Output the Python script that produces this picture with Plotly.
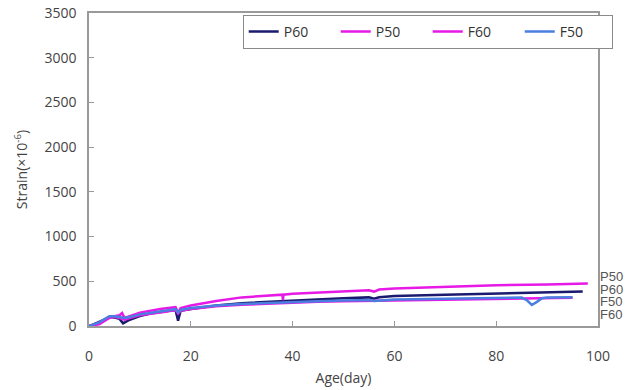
import plotly.graph_objects as go

# ---- data ----
p60_day = [0, 1, 3, 4, 5, 6, 6.7, 8, 10, 12, 15, 17, 17.5, 18, 20, 25, 30, 35, 40, 45, 50, 55, 56, 57, 60, 70, 80, 90, 97]
p60_val = [0, 20, 70, 100, 95, 80, 30, 70, 110, 140, 165, 180, 60, 170, 190, 230, 255, 270, 285, 300, 310, 320, 305, 322, 335, 350, 365, 375, 385]

p50_day = [0, 2, 4, 5, 6, 6.5, 7, 8, 10, 14, 17, 17.5, 18, 20, 25, 30, 35, 38, 38.1, 38.2, 40, 45, 50, 55, 56, 57, 60, 70, 80, 90, 98]
p50_val = [0, 20, 90, 110, 120, 145, 90, 110, 150, 190, 210, 150, 200, 230, 280, 320, 340, 350, 290, 350, 360, 375, 390, 400, 385, 408, 420, 440, 455, 465, 475]

f60_day = [0, 2, 4, 5, 6, 7, 8, 10, 15, 17, 17.5, 18, 20, 25, 30, 35, 40, 45, 50, 55, 60, 70, 80, 90, 95]
f60_val = [0, 30, 100, 100, 90, 70, 90, 120, 160, 180, 140, 170, 190, 222, 238, 250, 260, 270, 277, 282, 288, 298, 308, 312, 316]

f50_day = [0, 2, 4, 5, 6, 7, 8, 10, 15, 17, 17.5, 18, 20, 25, 30, 35, 40, 45, 50, 55, 56, 60, 70, 80, 85, 86, 87, 88, 89, 90, 95]
f50_val = [0, 40, 110, 110, 100, 90, 100, 130, 170, 190, 150, 180, 200, 230, 245, 258, 268, 278, 285, 290, 280, 295, 305, 315, 318, 290, 235, 270, 310, 318, 322]

end_labels = ["P50", "P60", "F50", "F60"]
x_ticks = [0, 20, 40, 60, 80, 100]
y_ticks = [0, 500, 1000, 1500, 2000, 2500, 3000, 3500]

NAVY = "#1a1a6e"
MAGENTA = "#e619e6"
BLUE = "#4a7fe0"
FONT = "Open Sans, Noto Sans, sans-serif"

fig = go.Figure()
fig.add_trace(go.Scatter(x=p60_day, y=p60_val, name="P60", mode="lines", line=dict(color=NAVY, width=2.5)))
fig.add_trace(go.Scatter(x=p50_day, y=p50_val, name="P50", mode="lines", line=dict(color=MAGENTA, width=2.5)))
fig.add_trace(go.Scatter(x=f60_day, y=f60_val, name="F60", mode="lines", line=dict(color=MAGENTA, width=2.5)))
fig.add_trace(go.Scatter(x=f50_day, y=f50_val, name="F50", mode="lines", line=dict(color=BLUE, width=2.5)))

label_y = [0.158, 0.116, 0.077, 0.038]
for t, yy in zip(end_labels, label_y):
    fig.add_annotation(text=t, xref="paper", yref="paper", x=1.002, y=yy, xanchor="left", yanchor="middle",
                       showarrow=False, borderpad=0,
                       font=dict(family="Liberation Sans, Arial, sans-serif", size=13, color="#555555"))

axis_common = dict(showline=True, linecolor="#9a9a9a", linewidth=1.5, mirror=True, showgrid=False, zeroline=False,
                   ticks="inside", ticklen=5, tickcolor="#9a9a9a", automargin=False,
                   tickfont=dict(family=FONT, size=14, color="#444444"))

fig.update_layout(
    width=638, height=390,
    margin=dict(l=89, r=40, t=13, b=64, autoexpand=False),
    paper_bgcolor="white", plot_bgcolor="white",
    font=dict(family=FONT, color="#444444"),
    xaxis=dict(range=[0, 100], tickvals=x_ticks, ticklabelstandoff=16,
               title=dict(text="Age(day)", font=dict(family=FONT, size=14, color="#444444"), standoff=10),
               **axis_common),
    yaxis=dict(range=[0, 3500], tickvals=y_ticks, ticklabelstandoff=8,
               title=dict(text="Strain(×10<sup>-6</sup>)", font=dict(family=FONT, size=14, color="#444444"), standoff=14),
               **axis_common),
    legend=dict(orientation="h", x=0.302, y=0.994, xanchor="left", yanchor="top",
                bgcolor="white", bordercolor="#8a8a8a", borderwidth=1,
                font=dict(family=FONT, size=14, color="#333333"),
                entrywidth=47, entrywidthmode="pixels", itemwidth=30),
    showlegend=True,
)

fig.write_html("out.html", config={"displayModeBar": False},
               post_script="document.body.style.margin='0';document.body.style.overflow='hidden';")
